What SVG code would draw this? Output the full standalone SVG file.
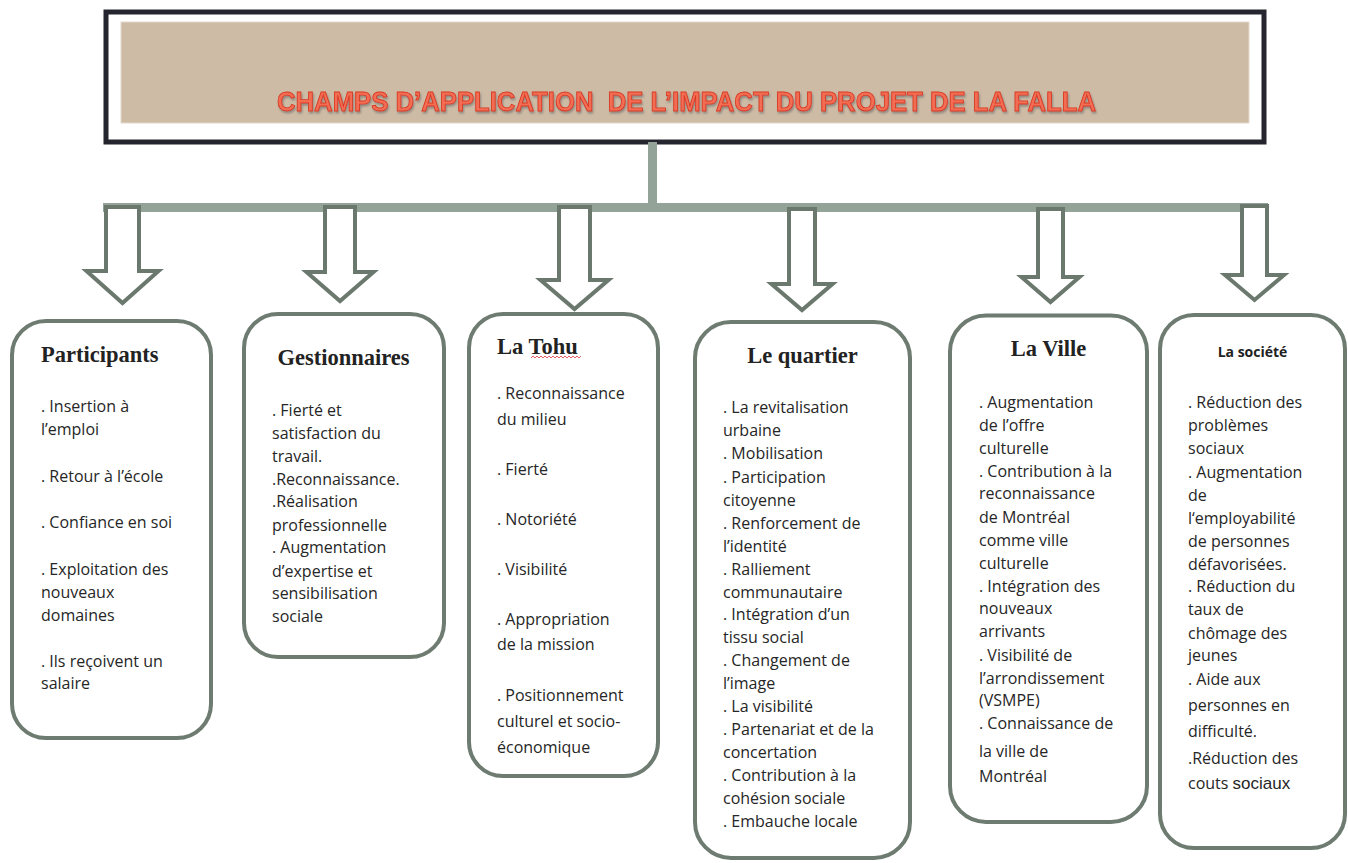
<svg xmlns="http://www.w3.org/2000/svg" width="1348" height="863" viewBox="0 0 1348 863">
<defs>
<filter id="sh" x="-5%" y="-50%" width="110%" height="200%">
<feDropShadow dx="1" dy="2" stdDeviation="1" flood-color="#666" flood-opacity="0.6"/>
</filter>
</defs>
<style>
.box{fill:#fff;stroke:#6E7B71;stroke-width:4}
.arrow{fill:#fff;stroke:#6B786E;stroke-width:4;stroke-linejoin:miter}
.bar{fill:#94A397}
.body{font-family:"Open Sans","Liberation Sans",sans-serif;font-size:16px;fill:#262626}
.ttl{font-family:"Liberation Serif",serif;font-weight:bold;font-size:22.5px;fill:#222}
.main{font-family:"Liberation Sans",Arial,sans-serif;font-weight:bold;font-size:27px;fill:#F36D55;stroke:#D8391F;stroke-width:0.9;white-space:pre}
</style>
<rect width="1348" height="863" fill="#fff"/>
<g id="title">
<rect x="106" y="12" width="1158" height="130" fill="#fff" stroke="#24252E" stroke-width="5"/>
<rect x="121" y="22" width="1128" height="101" fill="#CDBBA5" stroke="#E4D9CB" stroke-width="1"/>
<text class="main" x="686.5" y="111" text-anchor="middle" textLength="819" lengthAdjust="spacingAndGlyphs" filter="url(#sh)">CHAMPS D’APPLICATION  DE L’IMPACT DU PROJET DE LA FALLA</text>
</g>
<g id="connectors">
<rect class="bar" x="648" y="142" width="9" height="64"/>
<rect class="bar" x="103" y="203" width="1165" height="9"/>
<path class="arrow" d="M106,207 H139 V271 H158.5 L122.5,303 L86.5,271 H106 Z"/>
<path class="arrow" d="M325,207 H355 V272 H373.5 L340,301 L306.5,272 H325 Z"/>
<path class="arrow" d="M559,207 H590 V280 H608.5 L574.5,309 L540.5,280 H559 Z"/>
<path class="arrow" d="M789,209 H815 V284 H832.5 L802,310 L771.5,284 H789 Z"/>
<path class="arrow" d="M1038,209 H1063 V277 H1079.5 L1050.5,302 L1021.5,277 H1038 Z"/>
<path class="arrow" d="M1242,206 H1267 V275 H1284 L1254.5,300 L1225,275 H1242 Z"/>
</g>
<g id="participants">
<rect class="box" x="12" y="321" width="199" height="417" rx="34"/>
<text class="ttl" x="41" y="362">Participants</text>
<text class="body">
<tspan x="41" y="412">. Insertion à</tspan>
<tspan x="41" y="435">l’emploi</tspan>
<tspan x="41" y="482">. Retour à l’école</tspan>
<tspan x="41" y="528">. Confiance en soi</tspan>
<tspan x="41" y="575">. Exploitation des</tspan>
<tspan x="41" y="598">nouveaux</tspan>
<tspan x="41" y="621">domaines</tspan>
<tspan x="41" y="667">. Ils reçoivent un</tspan>
<tspan x="41" y="689">salaire</tspan>
</text>
</g>
<g id="gestionnaires">
<rect class="box" x="244" y="314" width="200" height="343" rx="34"/>
<text class="ttl" x="343.5" y="365" text-anchor="middle">Gestionnaires</text>
<text class="body">
<tspan x="272" y="416">. Fierté et</tspan>
<tspan x="272" y="439">satisfaction du</tspan>
<tspan x="272" y="462">travail.</tspan>
<tspan x="272" y="485">.Reconnaissance.</tspan>
<tspan x="272" y="507">.Réalisation</tspan>
<tspan x="272" y="531">professionnelle</tspan>
<tspan x="272" y="553">. Augmentation</tspan>
<tspan x="272" y="577">d’expertise et</tspan>
<tspan x="272" y="599">sensibilisation</tspan>
<tspan x="272" y="622">sociale</tspan>
</text>
</g>
<g id="latohu">
<rect class="box" x="469" y="314" width="189" height="462" rx="34"/>
<text class="ttl" x="497" y="354">La Tohu</text>
<path d="M531,358 l2,-2 l2,2 l2,-2 l2,2 l2,-2 l2,2 l2,-2 l2,2 l2,-2 l2,2 l2,-2 l2,2 l2,-2 l2,2 l2,-2 l2,2 l2,-2 l2,2 l2,-2 l2,2 l2,-2 l2,2 l2,-2 l2,2 l2,-2" fill="none" stroke="#E0393E" stroke-width="0.8"/>
<text class="body">
<tspan x="497" y="399">. Reconnaissance</tspan>
<tspan x="497" y="425">du milieu</tspan>
<tspan x="497" y="475">. Fierté</tspan>
<tspan x="497" y="525">. Notoriété</tspan>
<tspan x="497" y="575">. Visibilité</tspan>
<tspan x="497" y="625">. Appropriation</tspan>
<tspan x="497" y="650">de la mission</tspan>
<tspan x="497" y="701">. Positionnement</tspan>
<tspan x="497" y="727">culturel et socio-</tspan>
<tspan x="497" y="753">économique</tspan>
</text>
</g>
<g id="lequartier">
<rect class="box" x="695" y="322" width="215" height="536" rx="36"/>
<text class="ttl" x="802.5" y="363" text-anchor="middle">Le quartier</text>
<text class="body">
<tspan x="723" y="413">. La revitalisation</tspan>
<tspan x="723" y="436">urbaine</tspan>
<tspan x="723" y="459">. Mobilisation</tspan>
<tspan x="723" y="483">. Participation</tspan>
<tspan x="723" y="506">citoyenne</tspan>
<tspan x="723" y="529">. Renforcement de</tspan>
<tspan x="723" y="552">l’identité</tspan>
<tspan x="723" y="575">. Ralliement</tspan>
<tspan x="723" y="598">communautaire</tspan>
<tspan x="723" y="620">. Intégration d’un</tspan>
<tspan x="723" y="643">tissu social</tspan>
<tspan x="723" y="666">. Changement de</tspan>
<tspan x="723" y="689">l’image</tspan>
<tspan x="723" y="712">. La visibilité</tspan>
<tspan x="723" y="735">. Partenariat et de la</tspan>
<tspan x="723" y="758">concertation</tspan>
<tspan x="723" y="781">. Contribution à la</tspan>
<tspan x="723" y="804">cohésion sociale</tspan>
<tspan x="723" y="827">. Embauche locale</tspan>
</text>
</g>
<g id="laville">
<rect class="box" x="950" y="315.5" width="197" height="506.5" rx="36"/>
<text class="ttl" x="1048.5" y="356" text-anchor="middle">La Ville</text>
<text class="body">
<tspan x="979" y="408">. Augmentation</tspan>
<tspan x="979" y="431">de l’offre</tspan>
<tspan x="979" y="454">culturelle</tspan>
<tspan x="979" y="477">. Contribution à la</tspan>
<tspan x="979" y="499">reconnaissance</tspan>
<tspan x="979" y="523">de Montréal</tspan>
<tspan x="979" y="546">comme ville</tspan>
<tspan x="979" y="569">culturelle</tspan>
<tspan x="979" y="592">. Intégration des</tspan>
<tspan x="979" y="614">nouveaux</tspan>
<tspan x="979" y="637">arrivants</tspan>
<tspan x="979" y="661">. Visibilité de</tspan>
<tspan x="979" y="684">l’arrondissement</tspan>
<tspan x="979" y="706">(VSMPE)</tspan>
<tspan x="979" y="729">. Connaissance de</tspan>
<tspan x="979" y="757">la ville de</tspan>
<tspan x="979" y="782">Montréal</tspan>
</text>
</g>
<g id="lasociete">
<rect class="box" x="1160" y="315" width="185" height="533" rx="34"/>
<text x="1252.5" y="357" text-anchor="middle" style="font-family:'Open Sans','Liberation Sans',sans-serif;font-weight:bold;font-size:14px;fill:#222">La société</text>
<text class="body">
<tspan x="1188" y="408">. Réduction des</tspan>
<tspan x="1188" y="431">problèmes</tspan>
<tspan x="1188" y="454">sociaux</tspan>
<tspan x="1188" y="478">. Augmentation</tspan>
<tspan x="1188" y="501">de</tspan>
<tspan x="1188" y="524">l‘employabilité</tspan>
<tspan x="1188" y="547">de personnes</tspan>
<tspan x="1188" y="570">défavorisées.</tspan>
<tspan x="1188" y="592">. Réduction du</tspan>
<tspan x="1188" y="615">taux de</tspan>
<tspan x="1188" y="639">chômage des</tspan>
<tspan x="1188" y="661">jeunes</tspan>
<tspan x="1188" y="685">. Aide aux</tspan>
<tspan x="1188" y="711">personnes en</tspan>
<tspan x="1188" y="737">difficulté.</tspan>
<tspan x="1188" y="764">.Réduction des</tspan>
<tspan x="1188" y="789">couts <tspan style="font-family:'Liberation Sans',Arial,sans-serif;font-size:17px">sociaux</tspan></tspan>
</text>
</g>
</svg>
